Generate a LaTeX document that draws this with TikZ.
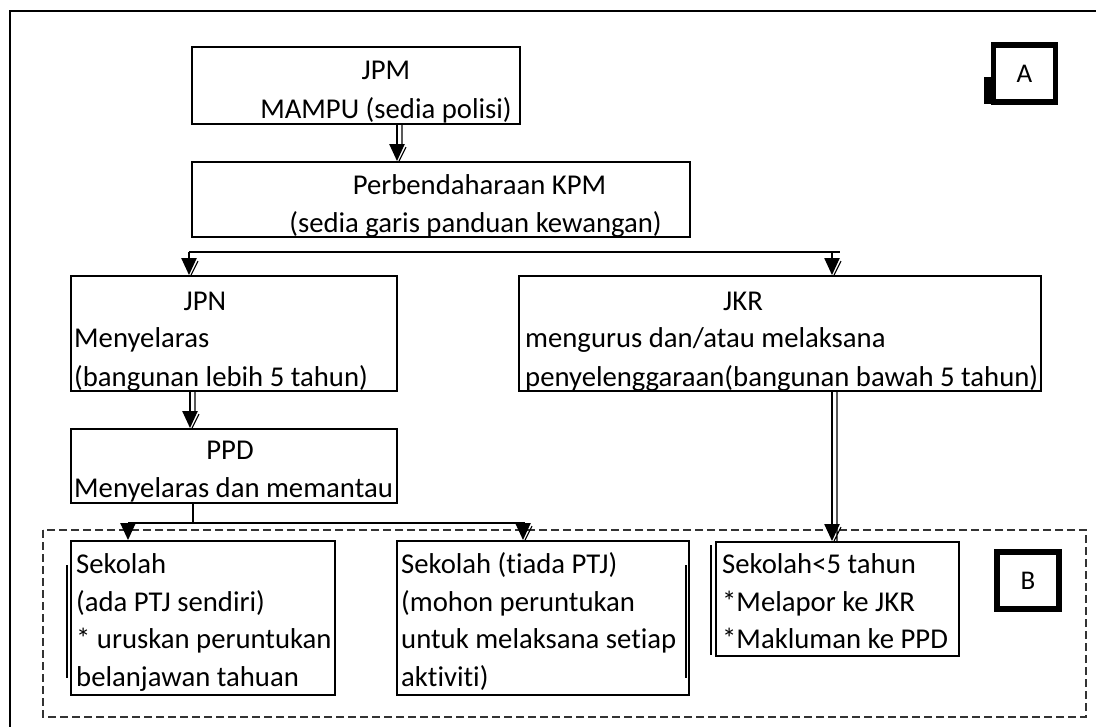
\documentclass[tikz,border=0pt]{standalone}
\usepackage{fontspec}
\setmainfont[Ligatures=NoCommon]{Carlito}
\usetikzlibrary{arrows.meta}

\tikzset{
  kotak/.style={draw, line width=1.8pt, inner sep=0pt},
  tanda/.style={draw, line width=5.5pt, inner sep=0pt, minimum width=62, minimum height=57, font=\fontsize{27}{32}\selectfont},
  teks/.style={inner sep=0pt, font=\fontsize{28.7}{34}\selectfont},
  kiri/.style={teks, anchor=base west},
  panah/.style={line width=2.2pt, -{Triangle[length=17pt,width=15pt]}},
  garis/.style={line width=1.8pt},
  bayang/.style={line width=1.1pt},
}

\begin{document}
\begin{tikzpicture}[x=1pt,y=-1pt]
\useasboundingbox (0,0) rectangle (1096,727);

% Bingkai
\draw[line width=2pt] (10,727) -- (10,11) -- (1096,11);
\draw[dash pattern=on 8pt off 4pt, line width=1.6pt, black!80] (43,530) rectangle (1086,717);

% Kotak
\foreach \n/\x/\y/\w/\h in {jpm/356/85.5/328/77, perb/441/199.5/498/75, jpn/234/333.5/326/115, jkr/780/333.5/522/115, ppd/234/466/326/74, sekA/203/618/264/154, sekB/543/618/292/154, sekC/837.5/599/243/114} {
    \node[kotak, minimum width=\w, minimum height=\h] (\n) at (\x,\y) {};
}

% Teks tengah
\foreach \n/\x/\y/\t in {t1/386/70/JPM, t2/386/110/{MAMPU (sedia polisi)}, t3/479.5/185/{Perbendaharaan KPM}, t4/475.5/224/{(sedia garis panduan kewangan)}, t5/205/301/JPN, t6/743/301/JKR, t7/230/450/PPD} {
    \node[teks] (\n) at (\x,\y) {\t};
}

% Teks kiri
\foreach \n/\x/\y/\t in {k1/74/348/Menyelaras, k2/74/387/{(bangunan lebih 5 tahun)}, k3/525/348/{mengurus dan/atau melaksana}, k4/525/387/{penyelenggaraan(bangunan bawah 5 tahun)}, k5/74/497/{Menyelaras dan memantau}, k6/76/573/Sekolah, k7/76/611/{(ada PTJ sendiri)}, k8/76/648/{* uruskan peruntukan}, k9/76/686/{belanjawan tahuan}, k10/401/573/{Sekolah (tiada PTJ)}, k11/401/611/{(mohon peruntukan}, k12/401/648/{untuk melaksana setiap}, k13/401/686/{aktiviti)}, k14/722/573/{Sekolah<5 tahun}, k15/722/611/{*Melapor ke JKR}, k16/722/648/{*Makluman ke PPD}} {
    \node[kiri] (\n) at (\x,\y) {\t};
}

% Tanda A dan B
\node[tanda] (tA) at (1024.5,73.5) {A};
\fill (984,77) rectangle (993,104);
\node[tanda] (tB) at (1028,580.5) {B};

% Anak panah
\draw[panah] ([xshift=41pt]jpm.south) -- ([xshift=41pt]jpm.south |- perb.north);
\draw[bayang] ([xshift=46pt]jpm.south) -- ++(0,22) ([xshift=43pt]jpm.south |- perb.north) -- ++(7,-14);

\coordinate (b1) at (189,252);
\coordinate (b2) at (840,252);
\coordinate (b3) at (832,252);
\draw[garis] (b1) -- (b2);
\draw[panah] (b1) -- (b1 |- jpn.north);
\draw[panah] (b3) -- (b3 |- jkr.north);
\draw[bayang] ([xshift=2pt]b1 |- jpn.north) -- ++(7,-14);
\draw[bayang] ([xshift=2pt]b3 |- jkr.north) -- ++(7,-14);

\draw[panah] ([xshift=-44pt]jpn.south) -- ([xshift=-44pt]jpn.south |- ppd.north);
\draw[bayang] ([xshift=-39pt]jpn.south) -- ++(0,22) ([xshift=-42pt]jpn.south |- ppd.north) -- ++(7,-14);

\coordinate (p1) at (128,523);
\coordinate (p2) at (525,523);
\draw[garis] ([xshift=-41pt]ppd.south) -- ([xshift=-41pt]ppd.south |- p1);
\draw[garis] (p1) -- (p2);
\draw[panah] (p1) -- (p1 |- sekA.north);
\draw[panah] ([xshift=-2pt]p2) -- ([xshift=-2pt]p2 |- sekB.north);
\draw[bayang] (p2 |- sekB.north) -- ++(7,-14);

\draw[panah] ([xshift=52pt]jkr.south) -- ([xshift=52pt]jkr.south |- sekC.north);
\draw[bayang] ([xshift=57pt]jkr.south) -- ([xshift=57pt]jkr.south |- sekC.north) -- ++(0,-14) ([xshift=54pt]jkr.south |- sekC.north) -- ++(7,-14);

% Garis tepi
\draw[line width=1.6pt] (67,565) -- (67,678);
\draw[line width=1.6pt] (686,565) -- (686,678);
\draw[line width=1.6pt] (711,545) -- (711,655);
\end{tikzpicture}
\end{document}
